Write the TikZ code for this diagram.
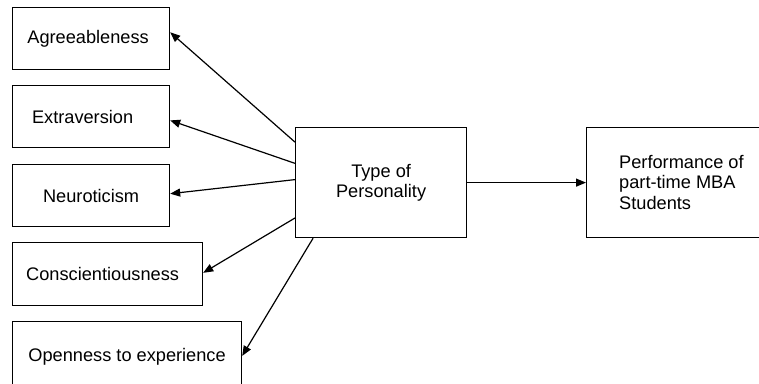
\documentclass[tikz,border=0pt]{standalone}
\usepackage{fontspec}
\setmainfont{Liberation Sans}
\usetikzlibrary{arrows.meta,calc}
\begin{document}
\begin{tikzpicture}[x=1pt,y=-1pt,
  box/.style={draw=black,line width=1.2pt,rectangle,inner sep=0pt,anchor=north west,
    font=\fontsize{18.2}{20.5}\selectfont},
  conn/.style={line width=1.2pt,-{Triangle[length=10pt,width=8pt]}}]
\useasboundingbox (0,0) rectangle (759,383);
\clip (0,0) rectangle (759,383);
\node[box,minimum width=157pt,minimum height=62pt] (agr) at (12,7) {\hspace*{-6pt}Agreeableness};
\node[box,minimum width=157pt,minimum height=62pt] (ext) at (12,85) {\hspace*{-17pt}Extraversion};
\node[box,minimum width=157pt,minimum height=62pt] (neu) at (12,164) {Neuroticism};
\node[box,minimum width=190pt,minimum height=63pt] (con) at (12,242) {\hspace*{-10pt}Conscientiousness};
\node[box,minimum width=229pt,minimum height=70pt] (ope) at (12,321) {Openness to experience};
\node[box,minimum width=171pt,minimum height=110pt,align=center] (typ) at (295,127) {Type of\\Personality};
\node[box,minimum width=200pt,minimum height=110pt] (per) at (586,127) {};
\node[anchor=north west,inner sep=0pt,align=left,font=\fontsize{18.2}{20.5}\selectfont] (pertxt) at (619,155) {Performance of\\part-time MBA\\Students};
\draw[conn] ($(typ.north west)!.136!(typ.south west)$) -- ($(agr.north east)!.4!(agr.south east)$);
\draw[conn] ($(typ.north west)!.327!(typ.south west)$) -- ($(ext.north east)!.56!(ext.south east)$);
\draw[conn] ($(typ.north west)!.473!(typ.south west)$) -- ($(neu.north east)!.47!(neu.south east)$);
\draw[conn] ($(typ.north west)!.818!(typ.south west)$) -- ($(con.north east)!.48!(con.south east)$);
\draw[conn] ($(typ.south west)!.105!(typ.south east)$) -- ($(ope.north east)!.49!(ope.south east)$);
\draw[conn] (typ.east) -- (typ.east -| per.west);
\end{tikzpicture}
\end{document}
